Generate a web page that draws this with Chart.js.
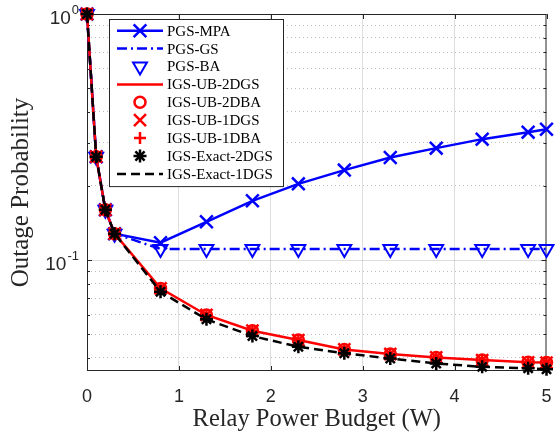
<!DOCTYPE html>
<html>
<head>
<meta charset="utf-8">
<title>Outage Probability vs Relay Power Budget</title>
<script src="https://cdn.jsdelivr.net/npm/chart.js@4.4.1/dist/chart.umd.min.js"></script>
<style>
  html, body { margin: 0; padding: 0; background: #fff; }
  #wrap { width: 558px; height: 435px; }
</style>
</head>
<body>
<div id="wrap"><canvas id="outage-chart" width="558" height="435"></canvas></div>
<script>
// x positions (relay power budget, W)
const powerBudget = [0, 0.1, 0.2, 0.3, 0.8, 1.3, 1.8, 2.3, 2.8, 3.3, 3.8, 4.3, 4.8, 5];

// outage probability
const pgsMpa = [1.0, 0.263, 0.160, 0.128, 0.1176, 0.143, 0.174, 0.204, 0.232, 0.261, 0.285, 0.310, 0.331, 0.340];
const pgsGs = [1.0, 0.263, 0.160, 0.128, 0.111, 0.111, 0.111, 0.111, 0.111, 0.111, 0.111, 0.111, 0.111, 0.111];
const pgsBa = [1.0, 0.263, 0.160, 0.128, 0.111, 0.111, 0.111, 0.111, 0.111, 0.111, 0.111, 0.111, 0.111, 0.111];
const igsUpperBound = [1.0, 0.263, 0.160, 0.128, 0.0767, 0.0598, 0.0516, 0.0473, 0.0433, 0.0415, 0.0402, 0.0392, 0.0384, 0.0383];
const igsExact = [1.0, 0.263, 0.160, 0.128, 0.0743, 0.0574, 0.0491, 0.0444, 0.0418, 0.0398, 0.0380, 0.0368, 0.0363, 0.0360];

// axes
const xTicks = [0, 1, 2, 3, 4, 5];
const yGridValues = [0.04, 0.05, 0.06, 0.07, 0.08, 0.09, 0.1, 0.2, 0.3, 0.4, 0.5, 0.6, 0.7, 0.8, 0.9, 1];
const yLabelValues = [1, 0.1];
const yLabelExps = ["0", "-1"];

const serif = '"Liberation Serif", "Times New Roman", serif';
const sans = '"Liberation Sans", Arial, sans-serif';
const axisColor = "#262626";

const toPoints = (ys) => powerBudget.map((x, i) => ({ x, y: ys[i] }));

//dataset helpers
const lineOnly = (label, ys, color, dash) => ({
  label, data: toPoints(ys),
  borderColor: color, borderWidth: 2.5, borderDash: dash,
  pointRadius: 0, showLine: true
});
const markerOnly = (label, ys, color, style, radius, width, rotation) => ({
  label, data: toPoints(ys),
  showLine: false,
  pointStyle: style, pointRadius: radius, pointRotation: rotation || 0,
  pointBorderColor: color, pointBackgroundColor: "rgba(0,0,0,0)",
  pointBorderWidth: width, borderColor: color
});

const datasets = [
  {
    label: "PGS-MPA", data: toPoints(pgsMpa),
    borderColor: "#0000ff", borderWidth: 2.5, borderDash: [],
    pointStyle: "crossRot", pointRadius: 9, pointBorderWidth: 2.5,
    pointBorderColor: "#0000ff", pointBackgroundColor: "rgba(0,0,0,0)", showLine: true
  },
  lineOnly("PGS-GS", pgsGs, "#0000ff", [10, 4, 2, 4]),
  markerOnly("PGS-BA", pgsBa, "#0000ff", "triangle", 8, 2, 180),
  lineOnly("IGS-UB-2DGS", igsUpperBound, "#ff0000", []),
  markerOnly("IGS-UB-2DBA", igsUpperBound, "#ff0000", "circle", 5.5, 2.5),
  markerOnly("IGS-UB-1DGS", igsUpperBound, "#ff0000", "crossRot", 8.5, 2.5),
  markerOnly("IGS-UB-1DBA", igsUpperBound, "#ff0000", "cross", 6, 2.5),
  markerOnly("IGS-Exact-2DGS", igsExact, "#000000", "star", 6.5, 2.5),
  lineOnly("IGS-Exact-1DGS", igsExact, "#000000", [9, 5])
];
// later series sit on top, like the original plot
datasets.forEach((ds, i) => {
  ds.order = datasets.length - i;
  ds.clip = false;
  ds.tension = 0;
});

// box, inward ticks, y tick labels and legend
const matlabAxes = {
  id: "matlabAxes",
  beforeDatasetsDraw(chart) {
    const { ctx, chartArea: a, scales: { x, y } } = chart;
    ctx.save();
    ctx.strokeStyle = axisColor;
    ctx.lineWidth = 1;
    ctx.setLineDash([]);
    ctx.beginPath();
    xTicks.forEach((v) => {
      const px = Math.round(x.getPixelForValue(v)) + 0.5;
      ctx.moveTo(px, a.bottom); ctx.lineTo(px, a.bottom - 5);
      ctx.moveTo(px, a.top); ctx.lineTo(px, a.top + 5);
    });
    yGridValues.forEach((v) => {
      const py = Math.round(y.getPixelForValue(v)) + 0.5;
      const len = yLabelValues.includes(v) ? 5 : 3;
      ctx.moveTo(a.left, py); ctx.lineTo(a.left + len, py);
      ctx.moveTo(a.right, py); ctx.lineTo(a.right - len, py);
    });
    ctx.stroke();
    ctx.strokeRect(a.left + 0.5, a.top + 0.5, a.right - a.left - 1, a.bottom - a.top - 1);
    ctx.restore();
  },
  afterDraw(chart) {
    const { ctx, chartArea: a, scales: { y } } = chart;
    ctx.save();

    // 10^n labels
    const rightEdge = a.left - 8;
    yLabelValues.forEach((v, i) => {
      const py = y.getPixelForValue(v);
      ctx.fillStyle = axisColor;
      ctx.textBaseline = "middle";
      ctx.textAlign = "right";
      ctx.font = "13px " + sans;
      const expW = ctx.measureText(yLabelExps[i]).width;
      ctx.fillText(yLabelExps[i], rightEdge, py - 4);
      ctx.font = "19px " + sans;
      ctx.fillText("10", rightEdge - expW - 1, py + 5);
    });

    // legend
    const lx = a.left + 22, ly = a.top + 5;
    const rowH = 17.9, boxW = 174, boxH = rowH * datasets.length + 6;
    ctx.fillStyle = "#fff";
    ctx.fillRect(lx, ly, boxW, boxH);
    ctx.strokeStyle = axisColor;
    ctx.lineWidth = 1;
    ctx.setLineDash([]);
    ctx.strokeRect(lx + 0.5, ly + 0.5, boxW, boxH);

    chart.data.datasets.forEach((ds, i) => {
      const cy = ly + 11.7 + i * rowH;
      const x1 = lx + 8, x2 = lx + 54, cx = (x1 + x2) / 2;
      if (ds.showLine !== false) {
        ctx.strokeStyle = ds.borderColor;
        ctx.lineWidth = ds.borderWidth;
        ctx.setLineDash(ds.borderDash || []);
        ctx.beginPath();
        ctx.moveTo(x1, cy); ctx.lineTo(x2, cy);
        ctx.stroke();
      }
      if (ds.pointRadius > 0) {
        ctx.setLineDash([]);
        ctx.strokeStyle = ds.pointBorderColor;
        ctx.fillStyle = ds.pointBackgroundColor;
        ctx.lineWidth = ds.pointBorderWidth;
        Chart.helpers.drawPoint(ctx, {
          pointStyle: ds.pointStyle, rotation: ds.pointRotation || 0,
          radius: ds.pointRadius, borderWidth: ds.pointBorderWidth
        }, cx, cy);
      }
      ctx.fillStyle = "#000";
      ctx.font = "15px " + serif;
      ctx.textAlign = "left";
      ctx.textBaseline = "middle";
      ctx.fillText(ds.label, lx + 58, cy + 1);
    });
    ctx.restore();
  }
};

const majorGrid = "rgba(0,0,0,0.13)";
const minorGrid = "rgba(0,0,0,0.26)";

new Chart(document.getElementById("outage-chart"), {
  type: "line",
  data: { datasets },
  options: {
    responsive: false,
    animation: false,
    layout: { padding: { top: 14, right: 5, left: 0, bottom: 0 } },
    plugins: { legend: { display: false }, tooltip: { enabled: false } },
    scales: {
      x: {
        type: "linear", min: 0, max: 5,
        afterFit(s) { s.height = 64; s.paddingLeft = 0; s.paddingRight = 0; },
        afterBuildTicks(s) { s.ticks = xTicks.map((v) => ({ value: v })); },
        grid: {
          drawTicks: false, lineWidth: 1,
          color: (c) => (c.tick && c.tick.value > 0 && c.tick.value < 5 ? majorGrid : "rgba(0,0,0,0)")
        },
        border: { display: false },
        ticks: { font: { family: sans, size: 18 }, color: axisColor, padding: 15, maxRotation: 0 },
        title: {
          display: true, text: "Relay Power Budget (W)", color: axisColor,
          font: { family: serif, size: 24.5 }, padding: { top: 0, bottom: 1 }
        }
      },
      y: {
        type: "logarithmic", min: 0.0354, max: 1,
        afterFit(s) { s.width = 87; s.paddingTop = 0; s.paddingBottom = 0; },
        afterBuildTicks(s) { s.ticks = yGridValues.map((v) => ({ value: v })); },
        grid: {
          drawTicks: false, lineWidth: 1,
          color: (c) => {
            if (!c.tick) return "rgba(0,0,0,0)";
            if (c.tick.value === 1) return "rgba(0,0,0,0)";
            return yLabelValues.includes(c.tick.value) ? majorGrid : minorGrid;
          }
        },
        border: {
          display: false,
          dash: (c) => (c.tick && yLabelValues.includes(c.tick.value) ? [] : [1, 3])
        },
        ticks: { display: false },
        title: {
          display: true, text: "Outage Probability", color: axisColor,
          font: { family: serif, size: 25 }, padding: { top: 6, bottom: 0 }
        }
      }
    }
  },
  plugins: [matlabAxes]
});
</script>
</body>
</html>
